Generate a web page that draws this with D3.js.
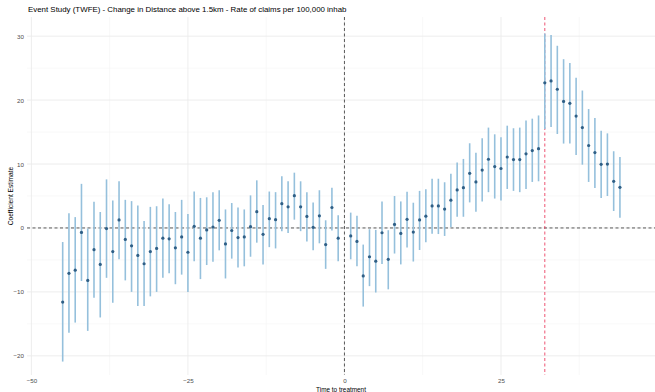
<!DOCTYPE html>
<html>
<head>
<meta charset="utf-8">
<script src="https://cdn.jsdelivr.net/npm/d3@7"></script>
<style>
  html, body { margin: 0; padding: 0; background: #ffffff; }
  svg { display: block; font-family: "Liberation Sans", Arial, sans-serif; }
</style>
</head>
<body>
<svg id="chart" width="655" height="392"></svg>
<script>
// Event-time periods (reference period 0 omitted)
const periods = [
  -45,-44,-43,-42,-41,-40,-39,-38,-37,-36,-35,-34,-33,-32,-31,-30,-29,-28,-27,-26,
  -25,-24,-23,-22,-21,-20,-19,-18,-17,-16,-15,-14,-13,-12,-11,-10,-9,-8,-7,-6,
  -5,-4,-3,-2,-1,
  1,2,3,4,5,6,7,8,9,10,11,12,13,14,15,16,17,18,19,20,
  21,22,23,24,25,26,27,28,29,30,31,32,33,34,35,36,37,38,39,40,
  41,42,43,44
];
// Point estimates
const estimate = [
  -11.6,-7.1,-6.6,-0.7,-8.2,-3.4,-5.7,-0.1,-3.7,1.25,-1.8,-2.8,-4.3,-5.6,-3.7,-3.2,-1.6,-1.7,-3.1,-1.4,
  -3.8,0.26,-1.6,-0.3,0.15,1.2,-2.5,-0.4,-1.5,-1.4,0.2,2.55,-1.0,1.45,1.3,3.8,3.3,5.05,3.3,1.8,
  0.1,1.9,-2.6,3.2,-1.6,
  -1.25,-2.1,-7.5,-4.5,-5.2,-0.75,-4.9,0.55,-0.85,1.35,-0.65,1.25,1.85,3.45,3.45,2.95,4.35,5.95,6.3,8.55,
  7.2,9.05,10.75,9.6,9.3,11.1,10.7,10.7,11.6,12.1,12.4,22.7,23.0,21.7,19.8,19.5,17.5,15.7,12.9,11.8,
  9.95,10.0,7.3,6.35
];
// Lower bound of the 95% confidence interval
const ciLow = [
  -20.9,-16.4,-14.8,-8.3,-16.1,-10.9,-14.0,-7.8,-11.7,-4.9,-8.2,-10.0,-12.2,-12.2,-10.7,-10.0,-7.8,-7.1,-8.8,-7.3,
  -10.0,-5.2,-8.0,-5.8,-5.3,-3.5,-7.9,-4.8,-6.2,-6.0,-4.5,-2.3,-5.7,-3.0,-3.2,-0.5,-0.8,1.3,-0.5,-2.1,
  -3.5,-2.4,-6.4,-0.4,-5.2,
  -4.9,-6.0,-12.3,-9.1,-10.1,-5.65,-9.6,-4.0,-5.7,-3.05,-5.25,-3.45,-2.25,-0.9,-0.95,-1.25,0.1,1.75,1.75,4.0,
  2.55,4.15,5.6,4.6,4.3,6.1,5.8,5.6,6.1,7.2,7.3,15.5,15.8,14.7,13.2,13.2,11.4,9.9,7.2,6.25,
  4.7,5.0,2.65,1.6
];
// Upper bound of the 95% confidence interval
const ciHigh = [
  -2.2,2.3,1.7,6.9,-0.1,4.1,2.5,7.6,4.3,7.3,4.4,4.2,3.5,1.1,3.3,3.4,4.6,3.7,2.5,4.4,
  2.2,5.7,4.7,4.8,5.6,5.9,2.9,3.9,3.2,2.9,5.1,7.45,3.6,5.7,5.6,8.1,7.3,8.65,7.3,5.6,
  4.0,5.9,1.2,6.3,2.0,
  2.4,1.9,-2.6,-0.2,-0.3,4.15,-0.35,5.0,4.15,5.65,3.95,5.8,6.05,7.7,7.7,7.15,8.5,10.25,10.8,13.25,
  11.75,14.05,15.7,14.65,14.2,16.0,15.6,15.7,16.8,17.1,17.6,30.4,30.2,28.5,26.4,25.8,23.5,21.5,18.6,17.2,
  15.2,14.8,12.0,11.1
];
const xTicks = [-50, -25, 0, 25];
const xMinorTicks = [-37.5, -12.5, 12.5, 37.5];
const yTicks = [-20, -10, 0, 10, 20, 30];
const yMinorTicks = [-15, -5, 5, 15, 25];
const treatmentShift = 32;

const titleText = "Event Study (TWFE) - Change in Distance above 1.5km - Rate of claims per 100,000 inhab";
const xTitle = "Time to treatment";
const yTitle = "Coefficient Estimate";

const rows = periods.map((p, i) => ({ t: p, est: estimate[i], lo: ciLow[i], hi: ciHigh[i] }));

const svg = d3.select("#chart");
const panel = { left: 27, right: 655, top: 17, bottom: 375 };

const x = d3.scaleLinear().domain([-50.7, 49.6]).range([panel.left, panel.right]);
const y = d3.scaleLinear().domain([-23, 33]).range([panel.bottom, panel.top]);

svg.append("rect").attr("width", 655).attr("height", 392).attr("fill", "#ffffff");

// Grid: minor then major
const grid = svg.append("g");
grid.selectAll("line.xminor").data(xMinorTicks).join("line")
  .attr("x1", d => x(d)).attr("x2", d => x(d))
  .attr("y1", panel.top).attr("y2", panel.bottom)
  .attr("stroke", "#f3f3f3").attr("stroke-width", 0.6);
grid.selectAll("line.yminor").data(yMinorTicks).join("line")
  .attr("y1", d => y(d)).attr("y2", d => y(d))
  .attr("x1", panel.left).attr("x2", panel.right)
  .attr("stroke", "#f3f3f3").attr("stroke-width", 0.6);
grid.selectAll("line.xmajor").data(xTicks).join("line")
  .attr("x1", d => x(d)).attr("x2", d => x(d))
  .attr("y1", panel.top).attr("y2", panel.bottom)
  .attr("stroke", "#ebebeb").attr("stroke-width", 0.9);
grid.selectAll("line.ymajor").data(yTicks).join("line")
  .attr("y1", d => y(d)).attr("y2", d => y(d))
  .attr("x1", panel.left).attr("x2", panel.right)
  .attr("stroke", "#ebebeb").attr("stroke-width", 0.9);

// Axes (text only, no lines)
const xAxis = svg.append("g")
  .attr("transform", `translate(0,${panel.bottom})`)
  .call(d3.axisBottom(x).tickValues(xTicks).tickSize(0).tickPadding(4).tickFormat(d3.format("d")));
xAxis.select(".domain").remove();
xAxis.selectAll("text").attr("font-size", 6.2).attr("fill", "#4d4d4d")
  .attr("font-family", "Liberation Sans, Arial, sans-serif");

const yAxis = svg.append("g")
  .attr("transform", `translate(${panel.left},0)`)
  .call(d3.axisLeft(y).tickValues(yTicks).tickSize(0).tickPadding(3).tickFormat(d3.format("d")));
yAxis.select(".domain").remove();
yAxis.selectAll("text").attr("font-size", 6.2).attr("fill", "#4d4d4d")
  .attr("font-family", "Liberation Sans, Arial, sans-serif");

// Reference lines
svg.append("line")
  .attr("x1", panel.left).attr("x2", panel.right)
  .attr("y1", y(0)).attr("y2", y(0))
  .attr("stroke", "#333333").attr("stroke-width", 0.8).attr("stroke-dasharray", "3,2.5");
svg.append("line")
  .attr("x1", x(0)).attr("x2", x(0))
  .attr("y1", panel.top).attr("y2", panel.bottom)
  .attr("stroke", "#333333").attr("stroke-width", 0.8).attr("stroke-dasharray", "3,2.5");
svg.append("line")
  .attr("x1", x(treatmentShift)).attr("x2", x(treatmentShift))
  .attr("y1", panel.top).attr("y2", panel.bottom)
  .attr("stroke", "#e8294f").attr("stroke-width", 0.8).attr("stroke-dasharray", "3,2.5");

// Confidence intervals
svg.append("g").selectAll("line").data(rows).join("line")
  .attr("x1", d => x(d.t)).attr("x2", d => x(d.t))
  .attr("y1", d => y(d.lo)).attr("y2", d => y(d.hi))
  .attr("stroke", "#95c0dc").attr("stroke-width", 1.6);

// Point estimates
svg.append("g").selectAll("circle").data(rows).join("circle")
  .attr("cx", d => x(d.t)).attr("cy", d => y(d.est))
  .attr("r", 1.6).attr("fill", "#2f5f86");

// Titles
svg.append("text")
  .attr("x", 28).attr("y", 12)
  .attr("font-size", 7.9).attr("fill", "#000000")
  .text(titleText);
svg.append("text")
  .attr("x", (panel.left + panel.right) / 2).attr("y", 391.5)
  .attr("text-anchor", "middle").attr("font-size", 6.4).attr("fill", "#000000")
  .text(xTitle);
svg.append("text")
  .attr("transform", `translate(13,${(panel.top + panel.bottom) / 2}) rotate(-90)`)
  .attr("text-anchor", "middle").attr("font-size", 6.6).attr("fill", "#000000")
  .text(yTitle);
</script>
</body>
</html>
